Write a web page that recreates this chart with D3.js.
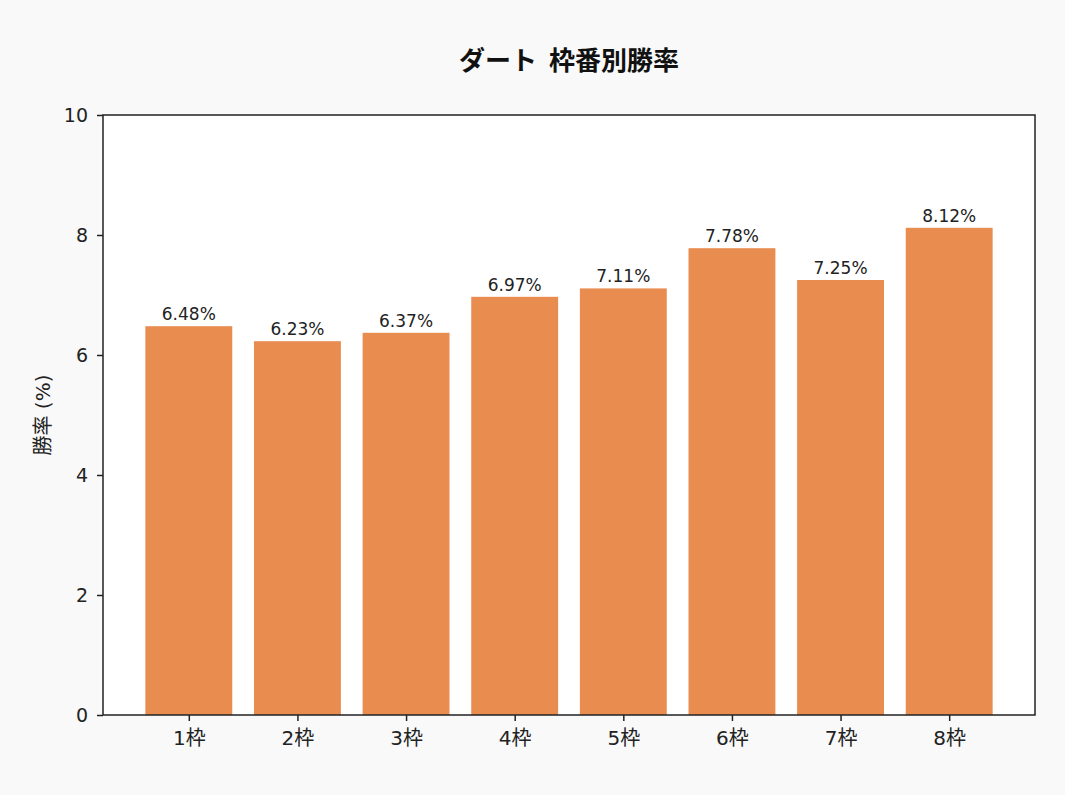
<!DOCTYPE html>
<html><head><meta charset="utf-8">
<script src="https://cdn.jsdelivr.net/npm/d3@7"></script>
<style>body{margin:0;background:#f9f9f9;} svg{display:block;}</style>
</head><body>
<svg id="c" width="1065" height="795"></svg>
<script>
const categories = ["1枠","2枠","3枠","4枠","5枠","6枠","7枠","8枠"];
const winRates = [6.48, 6.23, 6.37, 6.97, 7.11, 7.78, 7.25, 8.12];
const yTicks = [0, 2, 4, 6, 8, 10];
const title = "ダート 枠番別勝率";
const yLabel = "勝率 (%)";

const font = "'DejaVu Sans','Noto Sans CJK JP',sans-serif";
const cjk = "'Noto Sans CJK JP','DejaVu Sans',sans-serif";
const svg = d3.select("#c");
const L = 103, R = 1035, T = 115, B = 715;
svg.append("rect").attr("width",1065).attr("height",795).attr("fill","#f9f9f9");
svg.append("rect").attr("x",L).attr("y",T).attr("width",R-L).attr("height",B-T).attr("fill","#fff");

const x = d3.scaleLinear().domain([-0.79, categories.length - 1 + 0.79]).range([L, R]);
const y = d3.scaleLinear().domain([0, 10]).range([B, T]);
const bw = x(0.8) - x(0);

const g = svg.append("g");
g.selectAll("rect.bar").data(winRates).join("rect")
  .attr("class","bar")
  .attr("x",(d,i)=>x(i)-bw/2).attr("width",bw)
  .attr("y",d=>y(d)).attr("height",d=>y(0)-y(d))
  .attr("fill","#e88c50");

g.selectAll("text.val").data(winRates).join("text")
  .attr("class","val")
  .attr("x",(d,i)=>x(i)).attr("y",d=>y(d)-6)
  .attr("text-anchor","middle").attr("font-family",font).attr("font-size",17)
  .attr("fill","#222").text(d=>d.toFixed(2)+"%");

// frame
svg.append("rect").attr("x",L).attr("y",T).attr("width",R-L).attr("height",B-T)
  .attr("fill","none").attr("stroke","#222").attr("stroke-width",1.5);

const yAxis = svg.append("g").attr("transform",`translate(${L},0)`)
  .call(d3.axisLeft(y).tickValues(yTicks).tickSize(6).tickPadding(9).tickFormat(d3.format("d")));
yAxis.select(".domain").remove();
yAxis.selectAll("line").attr("stroke","#222").attr("stroke-width",1.5);
yAxis.selectAll("text").attr("font-family",font).attr("font-size",19).attr("fill","#222");

const xAxis = svg.append("g").attr("transform",`translate(0,${B})`)
  .call(d3.axisBottom(x).tickValues(d3.range(categories.length)).tickSize(6).tickPadding(10).tickFormat(i=>categories[i]));
xAxis.select(".domain").remove();
xAxis.selectAll("line").attr("stroke","#222").attr("stroke-width",1.5);
xAxis.selectAll("text").attr("font-family",font).attr("font-size",20).attr("fill","#222");

svg.append("text").attr("x",(L+R)/2).attr("y",70).attr("text-anchor","middle")
  .attr("font-family",cjk).attr("font-size",26).attr("font-weight","bold").attr("fill","#111")
  .attr("xml:space","preserve").style("white-space","pre").text(title.replace(" ","  "));

svg.append("text").attr("transform",`translate(50,${(T+B)/2}) rotate(-90)`).attr("text-anchor","middle")
  .attr("font-family",font).attr("font-size",20).attr("fill","#222").text(yLabel);
</script>
</body></html>
